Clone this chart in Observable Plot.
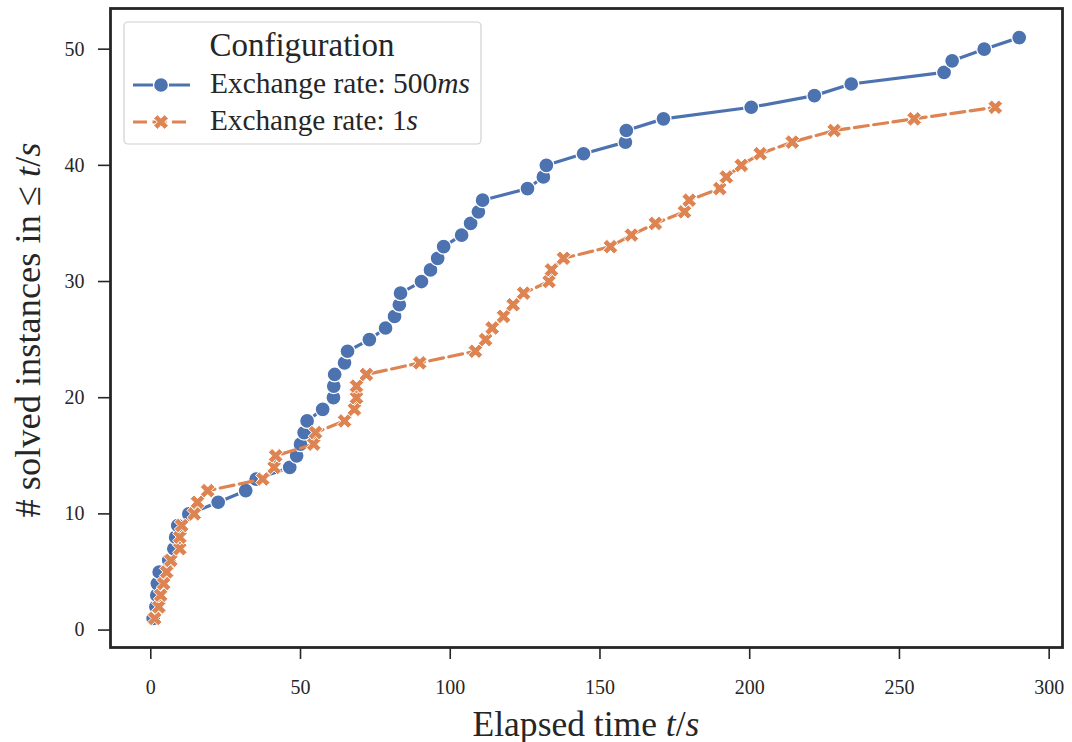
<!DOCTYPE html>
<html><head><meta charset="utf-8">
<script src="https://cdn.jsdelivr.net/npm/d3@7"></script>
<script src="https://cdn.jsdelivr.net/npm/@observablehq/plot@0.6"></script>
<style>body{margin:0;background:#fff} #chart{width:1072px;height:742px}</style>
</head><body><div id="chart"></div>
<script>
const seriesNames = ["Exchange rate: 500ms", "Exchange rate: 1s"];
const time500 = [0.8, 1.7, 2.0, 2.2, 2.8, 6.0, 7.7, 8.3, 9.0, 12.7,
  22.5, 31.7, 35.2, 46.4, 48.7, 50.0, 51.2, 52.2, 57.4, 61.0,
  61.1, 61.4, 64.7, 65.7, 73.0, 78.4, 81.4, 83.0, 83.4, 90.4,
  93.4, 95.8, 97.8, 103.8, 106.8, 109.4, 110.8, 125.8, 131.1, 132.1,
  144.5, 158.5, 158.8, 171.2, 200.5, 221.6, 233.9, 264.9, 267.6, 278.3, 290.0];
const solved500 = [1, 2, 3, 4, 5, 6, 7, 8, 9, 10,
  11, 12, 13, 14, 15, 16, 17, 18, 19, 20,
  21, 22, 23, 24, 25, 26, 27, 28, 29, 30,
  31, 32, 33, 34, 35, 36, 37, 38, 39, 40,
  41, 42, 43, 44, 45, 46, 47, 48, 49, 50, 51];
const time1s = [1.3, 2.7, 3.3, 4.3, 5.3, 6.7, 9.7, 9.7, 10.3, 14.5,
  15.6, 19.0, 37.4, 41.2, 41.7, 54.4, 55.0, 64.7, 68.0, 68.7,
  68.7, 72.0, 89.8, 108.4, 111.8, 114.0, 117.8, 121.0, 124.5, 133.0,
  133.8, 137.8, 153.5, 160.5, 168.5, 178.2, 179.8, 190.0, 192.2, 197.2,
  203.5, 214.2, 228.2, 254.9, 282.0];
const solved1s = [1, 2, 3, 4, 5, 6, 7, 8, 9, 10,
  11, 12, 13, 14, 15, 16, 17, 18, 19, 20,
  21, 22, 23, 24, 25, 26, 27, 28, 29, 30,
  31, 32, 33, 34, 35, 36, 37, 38, 39, 40,
  41, 42, 43, 44, 45];
const xTicks = [0, 50, 100, 150, 200, 250, 300];
const yTicks = [0, 10, 20, 30, 40, 50];

const d500 = time500.map((t, i) => ({series: seriesNames[0], t, n: solved500[i]}));
const d1s = time1s.map((t, i) => ({series: seriesNames[1], t, n: solved1s[i]}));

const BLUE = "#4c72b0", ORANGE = "#dd8452", INK = "#262626";
const FONT = "'Liberation Serif', 'DejaVu Serif', serif";
const DASH = "14,5.5";

// filled "X" marker (like matplotlib's 'X')
const filledX = {
  draw(ctx, size) {
    const r = Math.sqrt(size / Math.PI);
    const a = r * 1.1, b = r * 0.38;
    const pts = [[-b,-a],[b,-a],[b,-b],[a,-b],[a,b],[b,b],[b,a],[-b,a],[-b,b],[-a,b],[-a,-b],[-b,-b]];
    const c = Math.SQRT1_2;
    pts.forEach(([x, y], i) => {
      const X = c * (x - y), Y = c * (x + y);
      if (i === 0) ctx.moveTo(X, Y); else ctx.lineTo(X, Y);
    });
    ctx.closePath();
  }
};

const plot = Plot.plot({
  width: 1072, height: 742,
  marginLeft: 110, marginRight: 10, marginTop: 8, marginBottom: 95,
  style: {fontFamily: FONT, fontSize: "20px", color: INK, background: "white", overflow: "visible"},
  x: {domain: [-13.45, 304.45], label: null},
  y: {domain: [-1.5, 53.5], label: null},
  marks: [
    Plot.axisX({ticks: xTicks, tickSize: 12, tickPadding: 20, stroke: INK, strokeWidth: 1.6, fill: INK, fontSize: 20, label: null}),
    Plot.axisY({ticks: yTicks, tickSize: 12, tickPadding: 14, stroke: INK, strokeWidth: 1.6, fill: INK, fontSize: 20, label: null}),
    Plot.line(d500, {x: "t", y: "n", stroke: BLUE, strokeWidth: 3.2}),
    Plot.dot(d500, {x: "t", y: "n", r: 7.5, fill: BLUE, stroke: "white", strokeWidth: 1.3}),
    Plot.line(d1s, {x: "t", y: "n", stroke: ORANGE, strokeWidth: 3.2, strokeDasharray: DASH}),
    Plot.dot(d1s, {x: "t", y: "n", r: 7, symbol: filledX, fill: ORANGE, stroke: "white", strokeWidth: 1}),
    Plot.frame({stroke: INK, strokeWidth: 2.8})
  ]
});
document.getElementById("chart").append(plot);

const svg = d3.select(plot);
function richText(g, parts) {
  parts.forEach(([s, it]) => g.append("tspan").attr("font-style", it ? "italic" : "normal").text(s));
}
// scale the font so the text spans the same width as in the reference
function fitWidth(t, target) {
  const w = t.node().getComputedTextLength();
  const fs = parseFloat(t.attr("font-size"));
  if (w > 0) t.attr("font-size", (fs * target / w).toFixed(2));
}
const xl = svg.append("text").attr("x", 586).attr("y", 736).attr("text-anchor", "middle")
  .attr("font-family", FONT).attr("font-size", 30).attr("fill", INK);
richText(xl, [["Elapsed time ", false], ["t", true], ["/", false], ["s", true]]);
fitWidth(xl, 227);
const yl = svg.append("text").attr("transform", "translate(40,330) rotate(-90)").attr("text-anchor", "middle")
  .attr("font-family", FONT).attr("font-size", 30).attr("fill", INK);
richText(yl, [["# solved instances in \u2264 ", false], ["t", true], ["/", false], ["s", true]]);
fitWidth(yl, 375);

// legend
const lg = svg.append("g").attr("font-family", FONT).attr("fill", INK).attr("text-anchor", "start");
lg.append("rect").attr("x", 124).attr("y", 22).attr("width", 357).attr("height", 122).attr("rx", 4)
  .attr("fill", "white").attr("fill-opacity", 0.85).attr("stroke", "#d0d0d0").attr("stroke-width", 1.2);
const title = lg.append("text").attr("x", 302).attr("y", 56).attr("text-anchor", "middle").attr("font-size", 28).text("Configuration");
fitWidth(title, 185);
const rows = [
  {y: 85, color: BLUE, dash: null, parts: [["Exchange rate: 500", false], ["ms", true]], w: 260},
  {y: 122, color: ORANGE, dash: DASH, parts: [["Exchange rate: 1", false], ["s", true]], w: 208}
];
rows.forEach((r, i) => {
  lg.append("line").attr("x1", 133).attr("x2", 190).attr("y1", r.y).attr("y2", r.y)
    .attr("stroke", r.color).attr("stroke-width", 3.2).attr("stroke-dasharray", r.dash);
  if (i === 0) {
    lg.append("circle").attr("cx", 161).attr("cy", r.y).attr("r", 7.5).attr("fill", r.color).attr("stroke", "white").attr("stroke-width", 1.3);
  } else {
    const p = d3.path(); filledX.draw(p, Math.PI * 49);
    lg.append("path").attr("transform", `translate(161,${r.y})`).attr("d", p.toString()).attr("fill", r.color).attr("stroke", "white").attr("stroke-width", 1);
  }
  const t = lg.append("text").attr("x", 210).attr("y", r.y + 8).attr("text-anchor", "start").attr("font-size", 24);
  richText(t, r.parts);
  fitWidth(t, r.w);
});
</script>
</body></html>
